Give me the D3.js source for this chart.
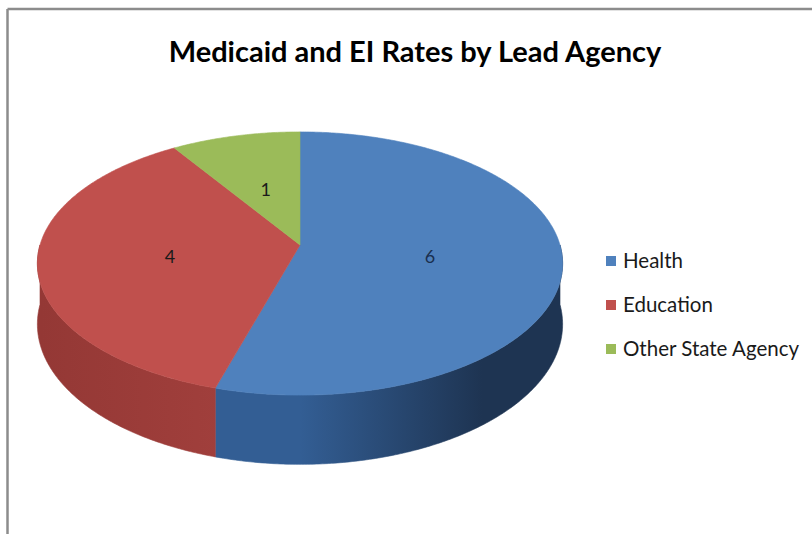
<!DOCTYPE html>
<html>
<head>
<meta charset="utf-8">
<script src="https://cdn.jsdelivr.net/npm/d3@7"></script>
<style>
  html, body { margin: 0; padding: 0; background: #ffffff; }
  svg { display: block; }
</style>
</head>
<body>
<svg id="chart" width="812" height="534"></svg>
<script>
// ---- data ----
const title = "Medicaid and EI Rates by Lead Agency";
const categories = ["Health", "Education", "Other State Agency"];
const values = [6, 4, 1];
const topColors = ["#4f81bd", "#c0504d", "#9bbb59"];
const wallLight = ["#335e94", "#a6423f", "#7d9a45"];
const wallDark  = ["#1e3452", "#943835", "#6b8438"];

// ---- layout ----
const W = 812, H = 534;
const cx = 300, cy = 245;     // projected centre of the pie top
const A = 260, B = 129;       // horizontal / vertical radii before perspective
const k = 0.1407;             // perspective strength
const depth = 59.5;           // thickness

const svg = d3.select("#chart");

// frame (top and left edges visible)
svg.append("line").attr("x1", 7.5).attr("x2", W).attr("y1", 9).attr("y2", 9)
  .attr("stroke", "#8c8c8c").attr("stroke-width", 2.5);
svg.append("line").attr("x1", 7.5).attr("x2", 7.5).attr("y1", 9).attr("y2", H)
  .attr("stroke", "#8c8c8c").attr("stroke-width", 2.5);

svg.append("text")
  .attr("x", 415).attr("y", 62)
  .attr("text-anchor", "middle")
  .attr("font-family", "Lato, 'Liberation Sans', sans-serif")
  .attr("font-weight", "bold")
  .attr("font-size", 29)
  .attr("fill", "#000")
  .text(title);

function project(theta, r, level) {
  const u = r * Math.sin(theta), v = -r * Math.cos(theta);
  const s = 1 / (1 - k * v);
  return [cx + A * u * s, cy + (B * v + level * depth) * s];
}

const pie = d3.pie().sort(null).startAngle(0).endAngle(2 * Math.PI);
const arcs = pie(values);

const defs = svg.append("defs");
arcs.forEach((a, i) => {
  const g = defs.append("linearGradient").attr("id", "wall" + i)
    .attr("gradientUnits", "userSpaceOnUse")
    .attr("x1", cx - A).attr("x2", cx + A).attr("y1", 0).attr("y2", 0);
  g.append("stop").attr("offset", "0%").attr("stop-color", i === 0 ? wallLight[i] : wallDark[i]);
  g.append("stop").attr("offset", "50%").attr("stop-color", wallLight[i]);
  g.append("stop").attr("offset", "85%").attr("stop-color", wallDark[i]);
  g.append("stop").attr("offset", "100%").attr("stop-color", wallDark[i]);
});

function rimPoints(a0, a1, level) {
  const n = Math.max(2, Math.ceil(Math.abs(a1 - a0) / 0.01));
  const pts = [];
  for (let j = 0; j <= n; j++) pts.push(project(a0 + (a1 - a0) * j / n, 1, level));
  return pts;
}

const line = d3.line();
const gWalls = svg.append("g");
const frontStart = Math.PI / 2, frontEnd = 3 * Math.PI / 2;
arcs.forEach((a, i) => {
  const s0 = Math.max(a.startAngle, frontStart), s1 = Math.min(a.endAngle, frontEnd);
  if (s1 <= s0) return;
  const pts = rimPoints(s0, s1, 0).concat(rimPoints(s1, s0, 1));
  gWalls.append("path").attr("d", line(pts) + "Z")
    .attr("fill", "url(#wall" + i + ")")
    .attr("stroke", "url(#wall" + i + ")").attr("stroke-width", 0.6);
});

const gTops = svg.append("g");
arcs.forEach((a, i) => {
  const pts = [project(0, 0, 0)].concat(rimPoints(a.startAngle, a.endAngle, 0));
  gTops.append("path").attr("d", line(pts) + "Z")
    .attr("fill", topColors[i])
    .attr("stroke", topColors[i]).attr("stroke-width", 0.6).attr("stroke-linejoin", "round");
});

// data labels
arcs.forEach((a, i) => {
  const mid = (a.startAngle + a.endAngle) / 2;
  const p = project(mid, 0.5, 0);
  svg.append("text")
    .attr("x", p[0]).attr("y", p[1] + 9)
    .attr("text-anchor", "middle")
    .attr("font-family", "Lato, 'Liberation Sans', sans-serif")
    .attr("font-size", 18)
    .attr("fill", i === 0 ? "#1a2f4f" : "#1a1a1a")
    .text(values[i]);
});

// legend
const legendY = d3.scalePoint().domain(categories).range([261, 349]);
const lg = svg.append("g");
categories.forEach((c, i) => {
  const y = legendY(c);
  lg.append("rect").attr("x", 606).attr("y", y - 5).attr("width", 10).attr("height", 10)
    .attr("fill", topColors[i]);
  lg.append("text").attr("x", 623).attr("y", y + 7)
    .attr("font-family", "Lato, 'Liberation Sans', sans-serif")
    .attr("font-size", 20.5)
    .attr("fill", "#1a1a1a")
    .text(c);
});
</script>
</body>
</html>
